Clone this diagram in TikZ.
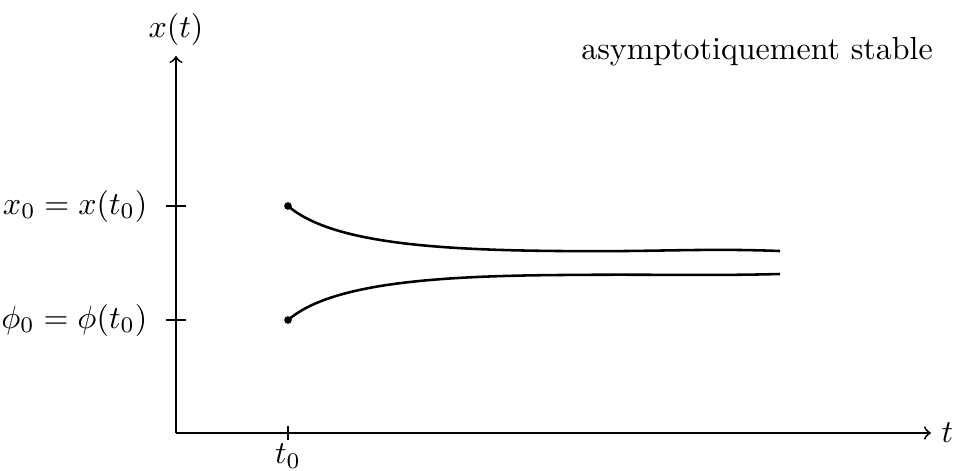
\documentclass[tikz,border=0pt]{standalone}
\begin{document}
\begin{tikzpicture}[x=0.3125pt,y=-0.3125pt,
  axis/.style={semithick,->},
  tick/.style={semithick},
  curve/.style={thick},
  dot/.style={circle,fill=black,inner sep=0pt,minimum size=2.4pt}]
\useasboundingbox (0,0) rectangle (958,470);
\coordinate (O) at (176,433);
\coordinate (ytop) at (176,56);
\coordinate (xend) at (931,433);
\draw[axis] (O) -- (ytop) node[above, inner sep=3pt] (xlab) {$x(t)$};
\draw[axis] (O) -- (xend) node[right, inner sep=3pt] (tlab) {$t$};
% ticks
\coordinate (ya1) at (166,206); \coordinate (yb1) at (186,206);
\coordinate (ya2) at (166,320); \coordinate (yb2) at (186,320);
\coordinate (ta) at (288,426); \coordinate (tb) at (288,440);
\draw[tick] (ya1) -- (yb1);
\draw[tick] (ya2) -- (yb2);
\draw[tick] (ta) -- (tb);
\node[anchor=east, inner sep=0pt] (lx0) at (148,206) {$x_0 = x(t_0)$};
\node[anchor=east, inner sep=0pt] (lphi0) at (148,320) {$\phi_0 = \phi(t_0)$};
\node[anchor=north, inner sep=0pt] (lt0) at (288,443) {$t_0$};
\node (title) at (757,52) {asymptotiquement stable};
% curves
\node[dot] (p1) at (288,206) {};
\node[dot] (p2) at (288,320) {};
\coordinate (e1) at (780,251);
\coordinate (e2) at (780,274);
\draw[curve] (p1.center) .. controls (330,242) and (430,250) .. (560,251)
  .. controls (660,252) and (700,248) .. (e1);
\draw[curve] (p2.center) .. controls (330,284) and (430,276) .. (560,275)
  .. controls (660,274) and (700,276) .. (e2);
\end{tikzpicture}
\end{document}
